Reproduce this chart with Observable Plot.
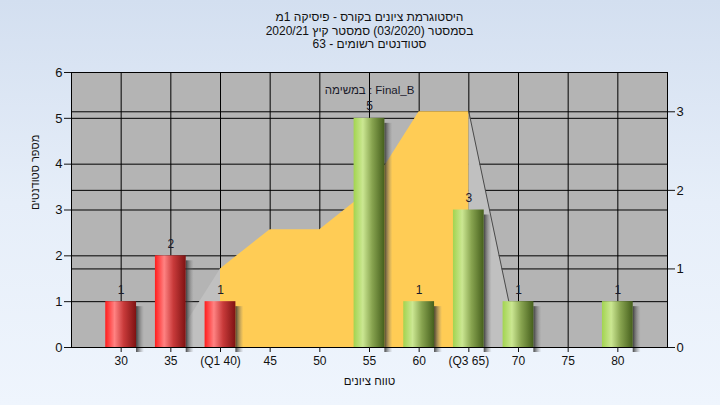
<!DOCTYPE html>
<html>
<head>
<meta charset="utf-8">
<script src="https://cdn.jsdelivr.net/npm/d3@7"></script>
<script src="https://cdn.jsdelivr.net/npm/@observablehq/plot@0.6"></script>
<style>
  html, body { margin: 0; padding: 0; }
  body { width: 720px; height: 405px; overflow: hidden;
         background: linear-gradient(to bottom, #d3dff0 0%, #e6eef9 50%, #eff5fd 100%); }
  #chart svg { display: block; }
</style>
</head>
<body>
<div id="chart"></div>
<script>
// ---- data ----
const titleLines = [
  "היסטוגרמת ציונים בקורס - פיסיקה 1מ",
  "בסמסטר (03/2020) סמסטר קיץ 2020/21",
  "סטודנטים רשומים - 63"
];
const xTitle = "טווח ציונים";
const yTitle = "מספר סטודנטים";
const legendText = "במשימה : Final_B";

const bins = [30, 35, 40, 45, 50, 55, 60, 65, 70, 75, 80];
const tickLabels = ["30", "35", "(Q1 40)", "45", "50", "55", "60", "(Q3 65)", "70", "75", "80"];
const counts = [1, 2, 1, 0, 0, 5, 1, 3, 1, 0, 1];
const Q1 = 40, Q3 = 65;

const curveBins = [35, 40, 45, 50, 55, 60, 65, 70];
const curveValues = [0, 1, 1.5, 1.5, 2, 3, 3, 0];

const leftTicks = [0, 1, 2, 3, 4, 5, 6];
const rightTicks = [0, 1, 2, 3];
const leftMax = 6, rightMax = 3.5;

// ---- derived ----
const k = leftMax / rightMax;
const barData = bins.map((b, i) => ({bin: b, count: counts[i], low: b <= Q1}))
  .filter(d => d.count > 0);
const curve = curveBins.map((b, i) => ({bin: b, v: curveValues[i] * k}));
const inner = curve.filter(d => d.bin >= Q1 && d.bin <= Q3);
const lowTail = curve.filter(d => d.bin <= Q1);
const highTail = curve.filter(d => d.bin >= Q3);
const halfW = 1.55;

const font = "'Liberation Sans', Arial, sans-serif";

const svg = Plot.plot({
  width: 720, height: 405,
  marginTop: 72, marginBottom: 58, marginLeft: 71, marginRight: 53,
  style: {background: "transparent", fontFamily: font, fontSize: "12px", color: "#111"},
  x: {domain: [25, 85], axis: null},
  y: {domain: [0, leftMax], axis: null},
  marks: [
    Plot.frame({fill: "#b4b4b4", stroke: null}),
    Plot.gridY(leftTicks, {stroke: "#000", strokeOpacity: 1}),
    Plot.gridY(rightTicks.map(v => v * k), {stroke: "#000", strokeOpacity: 1}),
    Plot.gridX(bins, {stroke: "#000", strokeOpacity: 1}),
    Plot.areaY(lowTail, {x: "bin", y: "v", fill: "#c0c0c0"}),
    Plot.areaY(highTail, {x: "bin", y: "v", fill: "#c0c0c0"}),
    Plot.areaY(inner, {x: "bin", y: "v", fill: "#ffcc55"}),
    Plot.lineY(highTail, {x: "bin", y: "v", stroke: "#4a4a4a", strokeWidth: 1}),
    // bar shadows
    Plot.rectY(barData, {x1: d => d.bin + halfW, x2: d => d.bin + halfW + 0.8,
      y1: 0, y2: "count", dy: 5, fill: "url(#gShadow)"}),
    // bars
    Plot.rectY(barData, {x1: d => d.bin - halfW, x2: d => d.bin + halfW,
      y1: 0, y2: "count", fill: d => d.low ? "url(#gRed)" : "url(#gGreen)"}),
    Plot.text(barData, {x: "bin", y: "count", text: d => String(d.count), dy: -12,
      fill: "#1a1a2a", fontSize: 12}),
    Plot.text([legendText], {frameAnchor: "top", dy: 13, fill: "#1a1a2a", fontSize: 11.5}),
    Plot.frame({stroke: "#000"}),
    Plot.axisY(leftTicks, {anchor: "left", label: null, tickSize: 7, tickPadding: 2, fontSize: 13, color: "#111"}),
    Plot.axisY(rightTicks.map(v => v * k), {anchor: "right", label: null, tickSize: 7, tickPadding: 2, fontSize: 13,
      tickFormat: d => String(Math.round(d / k))}),
    Plot.axisX(bins, {anchor: "bottom", label: null, tickSize: 5, tickPadding: 4, fontSize: 12,
      tickFormat: d => tickLabels[bins.indexOf(d)]}),
    Plot.text([xTitle], {frameAnchor: "bottom", dy: 34, lineAnchor: "middle", fontSize: 11.5, fill: "#111"}),
    Plot.text([yTitle], {frameAnchor: "left", dx: -36, rotate: -90, lineAnchor: "middle", fontSize: 11, fill: "#111"}),
    Plot.text([titleLines[0]], {frameAnchor: "top", dy: -55, lineAnchor: "middle", fontSize: 12, fill: "#111"}),
    Plot.text([titleLines[1]], {frameAnchor: "top", dy: -41, lineAnchor: "middle", fontSize: 12, fill: "#111"}),
    Plot.text([titleLines[2]], {frameAnchor: "top", dy: -28, lineAnchor: "middle", fontSize: 12, fill: "#111"})
  ]
});

d3.select(svg).insert("defs", ":first-child").html(`
  <linearGradient id="gRed" x1="0" x2="1" y1="0" y2="0">
    <stop offset="0" stop-color="#ff1c1c"/>
    <stop offset="0.3" stop-color="#ff8282"/>
    <stop offset="0.6" stop-color="#c83a3a"/>
    <stop offset="1" stop-color="#7e1212"/>
  </linearGradient>
  <linearGradient id="gGreen" x1="0" x2="1" y1="0" y2="0">
    <stop offset="0" stop-color="#a2d450"/>
    <stop offset="0.3" stop-color="#cbe792"/>
    <stop offset="0.6" stop-color="#88a450"/>
    <stop offset="1" stop-color="#455f1c"/>
  </linearGradient>
  <linearGradient id="gShadow" x1="0" x2="1" y1="0" y2="0">
    <stop offset="0" stop-color="#2a2a2a" stop-opacity="0.85"/>
    <stop offset="1" stop-color="#808080" stop-opacity="0"/>
  </linearGradient>
`);

document.getElementById("chart").appendChild(svg);
</script>
</body>
</html>
